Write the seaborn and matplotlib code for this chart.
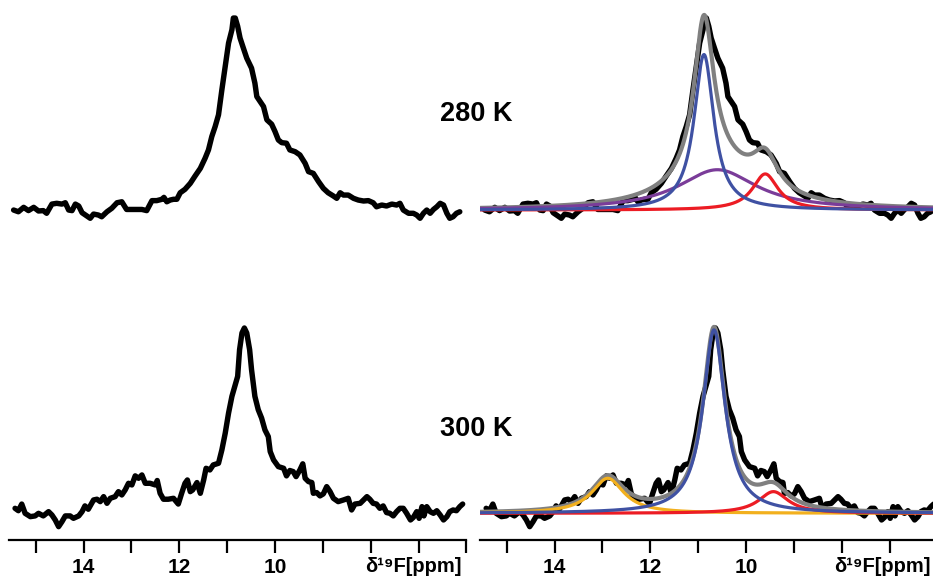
import numpy as np
import pandas as pd
import seaborn as sns
import matplotlib.pyplot as plt
from matplotlib.ticker import FixedLocator, FixedFormatter

# 19F spectra (ppm, intensity with peak ~100)
ppm_280 = [15.46, 15.36, 15.25, 15.15, 15.04, 14.94, 14.84, 14.77, 14.66, 14.56, 14.45, 14.38,
           14.31, 14.24, 14.17, 14.10, 14.03, 13.93, 13.86, 13.79, 13.69, 13.62, 13.51, 13.41,
           13.30, 13.20, 13.10, 12.99, 12.89, 12.78, 12.68, 12.57, 12.47, 12.36, 12.32, 12.26,
           12.19, 12.12, 12.05, 11.98, 11.88, 11.77, 11.67, 11.56, 11.46, 11.39, 11.32, 11.25,
           11.18, 11.11, 11.04, 10.97, 10.90, 10.87, 10.83, 10.78, 10.73, 10.66, 10.59, 10.49,
           10.42, 10.38, 10.31, 10.24, 10.17, 10.07, 10.00, 9.93, 9.86, 9.76, 9.69, 9.58,
           9.48, 9.37, 9.30, 9.20, 9.09, 8.99, 8.89, 8.78, 8.71, 8.64, 8.57, 8.47,
           8.36, 8.26, 8.15, 8.05, 7.95, 7.88, 7.77, 7.67, 7.56, 7.46, 7.39, 7.32,
           7.21, 7.11, 7.04, 6.97, 6.90, 6.83, 6.76, 6.69, 6.62, 6.55, 6.48, 6.41,
           6.35, 6.28, 6.21, 6.14]
int_280 = [0.0, -0.9, 1.4, -0.3, 1.4, -0.5, -0.3, -1.7, 3.1, 3.5, 3.1, 3.8,
           0.0, -0.3, 3.1, 2.1, -1.4, -3.1, -4.3, -2.1, -2.6, -3.5, -0.9, 0.9,
           3.8, 4.3, 0.3, 0.3, 0.3, 0.3, -0.3, 4.9, 4.9, 5.6, 6.6, 4.3,
           5.2, 5.6, 5.6, 9.0, 10.8, 13.9, 17.7, 21.7, 27.0, 31.3, 38.3, 43.5,
           49.6, 62.6, 74.8, 87.0, 93.9, 100.0, 100.0, 95.7, 89.6, 84.3, 79.1, 73.9,
           66.1, 59.1, 56.5, 53.9, 47.0, 44.7, 40.9, 36.5, 35.1, 34.8, 31.3, 30.4,
           28.7, 24.3, 20.0, 19.1, 14.8, 11.3, 9.0, 7.3, 6.1, 9.0, 7.8, 7.8,
           6.1, 5.2, 4.7, 4.9, 3.8, 1.7, 2.6, 2.1, 3.1, 2.6, 3.5, 0.0,
           -1.7, -1.7, -2.6, -4.3, -1.7, 0.0, -1.7, 0.3, 1.7, 3.5, 2.6, -1.7,
           -4.3, -3.5, -1.7, -0.9]

ppm_300 = [15.43, 15.36, 15.29, 15.22, 15.11, 15.01, 14.94, 14.84, 14.73, 14.66, 14.59, 14.52,
           14.45, 14.38, 14.28, 14.21, 14.10, 14.03, 13.97, 13.90, 13.79, 13.72, 13.65, 13.58,
           13.51, 13.44, 13.34, 13.27, 13.20, 13.13, 13.06, 12.99, 12.92, 12.85, 12.78, 12.71,
           12.61, 12.50, 12.46, 12.40, 12.33, 12.23, 12.12, 12.02, 11.95, 11.88, 11.83, 11.77,
           11.72, 11.63, 11.56, 11.49, 11.44, 11.36, 11.29, 11.18, 11.11, 11.04, 10.97, 10.90,
           10.83, 10.78, 10.74, 10.69, 10.64, 10.59, 10.53, 10.49, 10.42, 10.35, 10.28, 10.21,
           10.14, 10.10, 10.03, 9.93, 9.82, 9.76, 9.69, 9.62, 9.56, 9.48, 9.42, 9.37,
           9.30, 9.23, 9.20, 9.13, 9.06, 8.99, 8.92, 8.85, 8.78, 8.68, 8.57, 8.47,
           8.40, 8.33, 8.22, 8.15, 8.08, 8.02, 7.95, 7.88, 7.81, 7.74, 7.67, 7.60,
           7.53, 7.46, 7.39, 7.32, 7.25, 7.17, 7.11, 7.04, 6.99, 6.93, 6.89, 6.83,
           6.76, 6.69, 6.62, 6.55, 6.48, 6.41, 6.35, 6.28, 6.21, 6.14, 6.08]
int_300 = [2.7, 1.4, 5.0, 0.0, -1.8, -1.4, 0.0, -1.4, 0.9, -0.9, -3.6, -7.2,
           -4.5, -1.4, -1.4, -2.7, -1.4, 0.9, 4.0, 2.2, 7.2, 7.6, 6.3, 9.0,
           5.4, 8.1, 9.0, 11.7, 9.9, 12.6, 16.2, 15.3, 20.2, 18.9, 20.7, 16.2,
           16.2, 15.3, 17.7, 10.8, 7.6, 7.6, 8.1, 5.0, 10.8, 16.2, 18.0, 11.7,
           12.6, 16.6, 10.8, 18.0, 24.3, 23.4, 26.1, 27.0, 34.2, 43.2, 54.1, 63.1,
           69.4, 73.9, 88.3, 97.3, 100.0, 97.3, 88.3, 77.5, 63.1, 55.9, 51.4, 45.0,
           41.4, 33.3, 28.8, 25.2, 24.3, 20.2, 23.1, 22.5, 19.8, 23.4, 26.7, 18.9,
           17.1, 16.6, 10.8, 11.2, 9.4, 10.5, 14.4, 11.7, 8.1, 6.3, 7.2, 8.1,
           1.8, 5.0, 5.4, 7.2, 9.0, 7.6, 5.4, 5.0, 2.7, 4.0, 0.4, 0.0,
           -1.4, 0.9, 2.7, 2.7, 0.0, -3.6, -2.2, 0.9, -2.7, 3.6, -1.4, 3.6,
           0.9, 0.0, 1.4, -0.9, -3.6, -1.8, 0.9, 1.8, 1.4, 3.6, 5.0]

# Lorentzian deconvolution components (centre ppm, FWHM ppm, height)
fit_280_center = [10.88, 10.60, 9.60]
fit_280_fwhm = [0.50, 2.00, 0.65]
fit_280_height = [81.0, 21.0, 18.8]
fit_280_colors = ['#3f51a3', '#7a3c99', '#ec1c24']

fit_300_center = [10.67, 12.89, 9.43]
fit_300_fwhm = [0.56, 0.82, 0.75]
fit_300_height = [99.0, 18.9, 11.7]
fit_300_colors = ['#3f51a3', '#f2b01e', '#ec1c24']

temps = ['280 K', '300 K']
axis_label = 'δ¹⁹F[ppm]'
tick_vals = [6, 7, 8, 9, 10, 11, 12, 13, 14, 15]
tick_text = ['', '', '', '', '10', '', '12', '', '14', '']

sns.set_style('white')
plt.rcParams['font.family'] = ['Liberation Sans', 'DejaVu Sans']
plt.rcParams['text.color'] = 'black'
plt.rcParams['xtick.color'] = 'black'
plt.rcParams['xtick.labelcolor'] = 'black'

W, H = 933, 576
fig = plt.figure(figsize=(W / 100, H / 100), dpi=100)


def px_axes(x0, y0, x1, y1):
    return fig.add_axes([x0 / W, 1 - y1 / H, (x1 - x0) / W, (y1 - y0) / H])


def lorentz(x, c, fwhm, h):
    hw = fwhm / 2
    return h * hw ** 2 / ((x - c) ** 2 + hw ** 2)


grid = np.linspace(15.55, 6.0, 900)
cols = [(9.3, 466.5), (480.4, 937.6)]
rows = [(0, 230, (-10.4, 109.4)), (300, 540, (-14.4, 115.1))]
spectra = [(ppm_280, int_280), (ppm_300, int_300)]
fits = [(fit_280_center, fit_280_fwhm, fit_280_height, fit_280_colors),
        (fit_300_center, fit_300_fwhm, fit_300_height, fit_300_colors)]

for ci, (x0, x1) in enumerate(cols):
    for ri, (y0, y1, ylim) in enumerate(rows):
        ax = px_axes(x0, y0, x1, y1)
        ppm, inten = spectra[ri]
        sns.lineplot(x=ppm, y=inten, ax=ax, color='black', lw=3.9, sort=False,
                     estimator=None, solid_joinstyle='round', solid_capstyle='round')
        if ci == 1:
            c, w, h, colors = fits[ri]
            comps = [lorentz(grid, c[k], w[k], h[k]) for k in range(3)]
            total = np.sum(comps, axis=0)
            sns.lineplot(x=grid, y=total, ax=ax, color='#808080', lw=3.0, sort=False,
                         estimator=None)
            for k in [1, 2, 0]:
                sns.lineplot(x=grid, y=comps[k], ax=ax, color=colors[k], lw=2.3,
                             sort=False, estimator=None)
        ax.set_xlim(15.55, 6.0)
        ax.set_ylim(*ylim)
        ax.set_xlabel('')
        ax.set_ylabel('')
        ax.set_yticks([])
        for s in ['left', 'right', 'top']:
            ax.spines[s].set_visible(False)
        if ri == 0:
            ax.spines['bottom'].set_visible(False)
            ax.set_xticks([])
        else:
            ax.spines['bottom'].set_linewidth(1.6)
            ax.spines['bottom'].set_color('black')
            ax.xaxis.set_major_locator(FixedLocator(tick_vals))
            ax.xaxis.set_major_formatter(FixedFormatter(tick_text))
            ax.tick_params(axis='x', direction='out', length=9.5, width=1.6,
                           color='black', pad=3.5, labelsize=15, bottom=True)
            for lab in ax.get_xticklabels():
                lab.set_fontweight('bold')

# axis labels at the right end of each bottom axis
for xr in [462, 931]:
    fig.text(xr / W, 1 - 566 / H, axis_label, ha='right', va='center',
             fontsize=14.5, fontweight='bold')

fig.text(476.5 / W, 1 - 114 / H, temps[0], ha='center', va='center',
         fontsize=19.5, fontweight='bold')
fig.text(476.5 / W, 1 - 429 / H, temps[1], ha='center', va='center',
         fontsize=19.5, fontweight='bold')

fig.savefig('out.png', dpi=100)
